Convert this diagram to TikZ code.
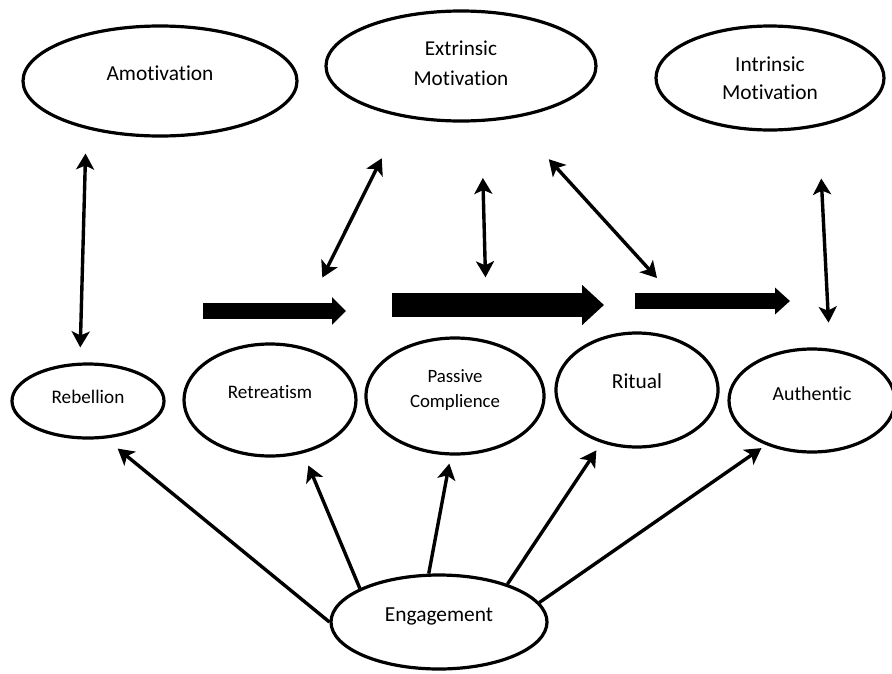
\documentclass[tikz,border=0pt]{standalone}
\usepackage{fontspec}
\setmainfont{Carlito}[Ligatures={NoCommon, NoRare}]
\usetikzlibrary{shapes.geometric, arrows.meta}

\tikzset{
	oval/.style={draw, ellipse, line width=3.2pt, inner sep=0pt, align=center},
	lift/.style={text height=13.8pt, text depth=#1},
	twoway/.style={line width=3.4pt, {Stealth[length=16pt,width=18pt,inset=4pt]}-{Stealth[length=16pt,width=18pt,inset=4pt]}},
	oneway/.style={line width=3.4pt, -{Stealth[length=16pt,width=18pt,inset=4pt]}},
	flow/.style={line cap=butt}
}

\begin{document}
\begin{tikzpicture}[x=1pt, y=-1pt]

\useasboundingbox (0,0) rectangle (892,673);

% Define motivation nodes.

	\node[oval, lift=14pt, minimum width=274pt, minimum height=110pt, font=\fontsize{21.4}{30}\selectfont] (amo) at (160,81) {Amotivation};
	\node[oval, minimum width=270pt, minimum height=110pt, font=\fontsize{21.2}{30}\selectfont] (ext) at (461,66) {Extrinsic\\Motivation\rule[-6pt]{0pt}{0pt}};
	\node[oval, minimum width=228pt, minimum height=104pt, font=\fontsize{21.4}{28}\selectfont] (int) at (770,78) {Intrinsic\\Motivation};

% Define engagement nodes.

	\node[oval, lift=8pt, minimum width=152pt, minimum height=74pt, font=\fontsize{19.2}{24}\selectfont] (reb) at (88,401) {Rebellion};
	\node[oval, lift=16pt, minimum width=172pt, minimum height=112pt, font=\fontsize{19.1}{24}\selectfont] (ret) at (270,400) {Retreatism};
	\node[oval, minimum width=178pt, minimum height=116pt, font=\fontsize{18.8}{25}\selectfont] (pas) at (455,396) {Passive\\Complience\rule[-14pt]{0pt}{0pt}};
	\node[oval, lift=16pt, minimum width=162pt, minimum height=114pt, font=\fontsize{21.4}{28}\selectfont] (rit) at (637,390) {Ritual};
	\node[oval, lift=14pt, minimum width=166pt, minimum height=103pt, font=\fontsize{19.9}{25}\selectfont] (aut) at (812,400.5) {Authentic};
	\node[oval, lift=14pt, minimum width=216pt, minimum height=94pt, font=\fontsize{21.4}{28}\selectfont] (eng) at (439,622) {Engagement};

	\coordinate (ritGap) at (657,278);

% Draw two-way arrows.

	\draw[twoway, shorten <=24.6pt, shorten >=15.2pt] (amo.213.4) -- (reb.102.7);
	\draw[twoway, shorten <=46pt, shorten >=74pt] (ext.221.7) -- (ret.71.8);
	\draw[twoway, shorten <=56pt, shorten >=63pt] (ext.-70.7) -- (pas.60);
	\draw[twoway, shorten <=55pt] (ext.-46.5) -- (ritGap);
	\draw[twoway, shorten <=52pt, shorten >=26pt] (int.-45.7) -- (aut.71.3);

% Draw flow arrows.

	\draw[flow, line width=16pt, -{Triangle[length=14pt,width=27pt]}] (203,311) -- (346,311);
	\draw[flow, line width=24pt, -{Triangle[length=22pt,width=39pt]}] (392,305) -- (604,305);
	\draw[flow, line width=16pt, -{Triangle[length=15pt,width=26pt]}] (635,301) -- (790,301);

% Draw engagement arrows.

	\draw[oneway, shorten >=15.7pt] (eng.180) -- (reb.-65.6);
	\draw[oneway, shorten >=13.2pt] (eng.157.5) -- (ret.-58);
	\draw[oneway, shorten >=8.2pt] (eng.102.7) -- (pas.-94.4);
	\draw[oneway, shorten >=9pt] (eng.29.8) -- (rit.236.4);
	\draw[oneway, shorten >=5.4pt] (eng.11) -- (aut.224.9);

\end{tikzpicture}
\end{document}
